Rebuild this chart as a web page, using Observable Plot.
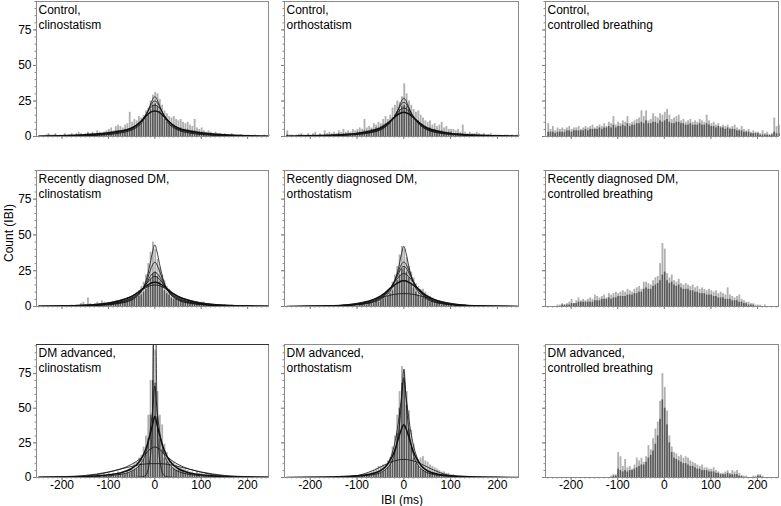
<!DOCTYPE html>
<html><head><meta charset="utf-8">
<script src="https://cdn.jsdelivr.net/npm/d3@7"></script>
<script src="https://cdn.jsdelivr.net/npm/@observablehq/plot@0.6"></script>
<style>
body{margin:0;background:#fff;}
#chart{position:relative;width:781px;height:506px;overflow:hidden;font-family:"Liberation Sans",Arial,sans-serif;background:#fff;}
.lbl{position:absolute;font-size:12px;line-height:12px;color:#000;white-space:nowrap;transform:translate(-50%,-50%);}
</style></head><body><div id="chart"></div>
<script>
// ---------- data ----------
const binStart = -250, binWidth = 5;           // histogram bins (ms)
const xTicks = [-200, -100, 0, 100, 200];
const yTicks = [0, 25, 50, 75];
const titles = [
  "Control,\nclinostatism", "Control,\northostatism", "Control,\ncontrolled breathing",
  "Recently diagnosed DM,\nclinostatism", "Recently diagnosed DM,\northostatism", "Recently diagnosed DM,\ncontrolled breathing",
  "DM advanced,\nclinostatism", "DM advanced,\northostatism", "DM advanced,\ncontrolled breathing"
];
const curveX = [-250,-200,-150,-100,-75,-50,-40,-30,-20,-10,-5,0,5,10,20,30,40,50,75,100,150,200,250];

const ctrlClinoLight = [0,0,0,1,2,1,1,2,0,1, 1,2,1,1,2,1,2,3,2,1, 2,3,2,3,2,4,3,2,3,4, 5,6,4,7,8,7,6,8,9,17, 10,12,11,14,13,15,18,20,25,29, 31,30,26,22,18,16,14,13,14,12, 11,12,10,9,10,8,7,12,6,5, 6,4,3,4,3,2,3,2,2,1, 2,1,1,2,1,0,1,1,0,0, 1,0,0,1,0,0,0,1,0,1];
const ctrlClinoDark = [0,0,0,0,1,0,0,1,0,0, 0,1,0,1,1,0,1,1,1,1, 1,2,1,2,1,2,2,1,2,2, 3,3,2,4,4,4,3,4,5,5, 6,7,7,9,9,11,13,15,19,22, 23,21,18,15,12,10,9,8,8,7, 6,6,5,5,5,4,4,4,3,3, 3,2,2,2,2,1,1,1,1,1, 1,1,0,1,0,0,0,1,0,0, 0,0,0,0,0,0,0,0,0,0];
const ctrlOrthoLight = [4,1,1,0,1,1,2,1,1,2, 1,2,3,1,2,1,4,2,3,2, 3,2,4,3,5,3,4,3,5,4, 5,6,5,12,6,7,6,9,8,10, 9,12,14,12,15,20,22,25,24,28, 37,30,25,22,19,17,18,15,13,11, 10,11,8,9,7,8,10,6,7,5, 5,5,4,5,3,8,3,2,3,2, 2,3,2,1,2,1,1,2,1,1, 1,1,0,1,1,0,1,0,1,1];
const ctrlOrthoDark = [1,0,0,0,0,1,1,0,0,1, 0,1,1,0,1,0,1,1,1,1, 1,1,2,1,2,2,2,2,2,2, 3,3,3,4,4,4,5,5,6,6, 7,8,9,10,11,13,15,17,19,21, 22,21,19,16,14,12,11,9,8,7, 6,6,5,5,4,4,4,3,3,3, 3,2,2,2,2,2,1,1,1,1, 1,1,1,1,1,0,1,0,0,0, 0,0,0,0,0,0,0,0,0,0];
const ctrlBreathLight = [9,5,7,4,6,5,6,5,6,7, 5,6,6,7,5,6,7,6,7,8, 6,7,8,7,9,7,10,9,14,8, 10,9,11,10,14,9,10,11,12,13, 18,14,18,11,12,16,14,13,16,15, 17,19,15,12,13,14,15,11,12,10, 11,12,10,11,10,12,11,10,15,11, 9,10,8,9,7,8,7,8,6,7, 8,6,5,7,5,4,5,3,4,3, 3,2,4,2,3,1,2,13,7,8];
const ctrlBreathDark = [3,3,3,2,3,3,3,3,4,4, 3,4,4,4,4,4,5,4,5,5, 5,5,6,5,6,6,7,6,8,6, 7,7,8,7,9,7,8,8,9,9, 10,9,11,9,9,10,10,9,11,10, 11,12,10,9,9,10,10,9,9,8, 8,9,8,8,8,9,8,8,9,8, 7,7,6,7,6,6,5,6,5,5, 5,4,4,4,3,3,3,2,2,2, 2,1,1,1,1,1,1,3,2,2];

const recentClinoLight = [0,0,0,0,0,0,0,0,0,0, 0,0,0,0,1,0,1,1,2,3, 1,6,2,1,2,3,2,4,3,2, 3,2,3,4,3,4,5,4,6,6, 7,8,10,11,14,17,22,30,38,45, 40,33,27,22,18,14,12,10,9,8, 6,6,5,5,4,4,3,3,3,2, 3,3,2,2,1,1,1,1,1,0, 1,0,0,1,0,0,0,0,0,0, 0,0,0,0,0,0,0,0,0,0];
const recentClinoDark = [0,0,0,0,0,0,0,0,0,0, 0,0,0,0,0,0,0,0,1,1, 1,1,1,1,1,1,1,2,2,2, 2,2,2,3,3,3,3,3,4,4, 5,5,6,7,8,10,12,15,19,23, 24,21,17,14,11,9,8,6,5,5, 4,4,3,3,3,2,2,2,2,2, 1,1,1,1,1,1,0,1,0,0, 0,0,0,0,0,0,0,0,0,0, 0,0,0,0,0,0,0,0,0,0];
const recentOrthoLight = [0,0,0,0,0,0,0,0,0,0, 0,0,0,0,0,0,0,0,0,0, 0,0,0,0,1,0,1,1,1,2, 1,2,2,3,2,3,3,4,5,5, 6,7,9,11,13,17,22,28,36,42, 40,34,28,24,20,16,14,12,12,10, 8,7,6,5,4,4,3,3,2,2, 2,1,1,1,1,0,1,0,0,0, 0,0,0,0,0,0,0,0,0,0, 0,0,0,0,0,0,0,0,0,0];
const recentOrthoDark = [0,0,0,0,0,0,0,0,0,0, 0,0,0,0,0,0,0,0,0,0, 0,0,0,0,0,0,0,0,0,0, 0,1,1,1,1,2,2,2,3,3, 4,5,6,7,9,11,14,18,22,26, 27,24,20,16,13,10,8,7,6,5, 4,3,3,2,2,2,1,1,1,1, 1,0,0,0,0,0,0,0,0,0, 0,0,0,0,0,0,0,0,0,0, 0,0,0,0,0,0,0,0,0,0];
const recentBreathLight = [0,0,0,0,1,1,2,1,2,3, 5,2,4,6,4,5,4,5,6,5, 8,7,6,7,8,6,9,8,9,10, 9,10,11,10,12,11,10,12,13,14, 12,17,17,16,15,18,20,21,30,44, 40,23,20,22,18,17,19,16,15,16, 15,14,15,13,14,12,13,12,11,12, 11,10,11,9,10,9,8,13,8,7, 6,7,8,5,4,3,3,2,2,1, 1,1,0,1,0,0,0,0,0,0];
const recentBreathDark = [0,0,0,0,0,0,1,1,1,1, 2,2,2,3,3,3,3,3,3,3, 4,4,4,5,5,5,6,5,6,6, 7,7,7,7,8,8,8,9,9,10, 10,12,13,12,12,14,15,16,18,22, 24,18,16,17,15,14,15,13,12,12, 12,11,11,10,10,9,9,9,8,8, 8,7,7,6,6,6,5,5,5,4, 4,4,3,3,2,2,1,1,1,0, 0,0,0,0,0,0,0,0,0,0];

const advClinoLight = [0,0,0,0,0,0,0,0,0,0, 0,0,0,0,0,0,0,0,0,0, 0,0,0,1,0,1,1,0,2,1, 3,2,3,2,4,3,4,3,5,6, 8,10,11,14,16,22,30,45,70,95, 92,62,45,38,24,18,14,12,11,9, 8,7,6,6,5,4,4,3,4,3, 3,2,3,2,2,1,2,1,1,0, 1,0,0,0,0,0,0,0,0,0, 0,0,0,0,0,0,0,0,0,0];
const advClinoDark = [0,0,0,0,0,0,0,0,0,0, 0,0,0,0,0,0,0,0,0,0, 0,0,0,0,0,0,1,0,1,1, 1,1,1,1,2,2,2,2,3,3, 4,5,6,8,10,13,18,28,45,70, 68,44,28,20,14,11,9,7,6,5, 5,4,4,3,3,3,2,2,2,2, 1,1,1,1,1,0,1,0,0,0, 0,0,0,0,0,0,0,0,0,0, 0,0,0,0,0,0,0,0,0,0];
const advOrthoLight = [0,0,0,0,0,0,0,0,0,0, 0,0,0,0,0,0,0,0,0,0, 0,0,0,0,0,0,0,0,0,1, 1,1,2,2,3,3,4,5,6,8, 8,9,9,12,14,22,30,45,62,80, 78,62,48,34,24,15,13,14,15,12, 11,9,8,7,6,5,4,4,3,3, 2,2,1,1,1,0,0,0,0,0, 0,0,0,0,0,0,0,0,0,0, 0,0,0,0,0,0,0,0,0,0];
const advOrthoDark = [0,0,0,0,0,0,0,0,0,0, 0,0,0,0,0,0,0,0,0,0, 0,0,0,0,0,0,0,0,0,0, 0,0,1,1,1,1,2,2,2,3, 3,4,5,7,9,13,20,32,50,68, 70,52,35,22,14,10,8,6,5,4, 4,3,3,2,2,2,1,1,1,1, 1,0,0,0,0,0,0,0,0,0, 0,0,0,0,0,0,0,0,0,0, 0,0,0,0,0,0,0,0,0,0];
const advBreathLight = [0,0,0,0,0,0,0,0,0,0, 0,0,0,0,0,0,0,0,0,0, 0,0,0,0,0,0,0,1,2,2, 18,15,8,13,7,8,6,9,14,12, 14,11,15,23,20,28,35,40,55,75, 65,48,30,22,18,17,15,16,14,15, 14,12,11,10,9,8,9,7,7,6, 6,7,5,4,3,3,4,5,3,5, 4,5,3,1,1,1,0,0,1,1, 2,2,1,0,0,0,0,0,0,0];
const advBreathDark = [0,0,0,0,0,0,0,0,0,0, 0,0,0,0,0,0,0,0,0,0, 0,0,0,0,0,0,0,0,1,1, 6,5,4,5,4,5,5,6,7,8, 9,9,11,14,16,19,24,30,42,56, 50,38,25,18,14,13,12,11,10,10, 9,8,8,7,6,6,5,5,5,4, 4,4,3,3,2,2,2,3,2,2, 2,2,1,1,0,0,0,0,0,0, 1,1,0,0,0,0,0,0,0,0];

// fitted curves, values at curveX
const ctrlClinoCurves = [
  [0.2,0.5,1.2,2.6,3.8,6,7.8,10.5,14,17,17.7,18,17.7,17,14,10.5,7.8,6,3.8,2.6,1.2,0.5,0.2],
  [0.1,0.2,0.5,1.4,2.4,4.5,6.2,9,14,22,26,28,26,22,14,9,6.2,4.5,2.4,1.4,0.5,0.2,0.1],
  [0.1,0.3,0.7,1.8,3,5.2,7,10,15,21,24,25,24,21,15,10,7,5.2,3,1.8,0.7,0.3,0.1],
  [0.1,0.4,0.9,2.2,3.5,6,8,11,15,20,21.5,22,21.5,20,15,11,8,6,3.5,2.2,0.9,0.4,0.1]
];
const ctrlOrthoCurves = [
  [0.2,0.5,1,2.2,3.5,6,8,10.5,13.5,16,16.7,17,16.7,16,13.5,10.5,8,6,3.5,2.2,1,0.5,0.2],
  [0.1,0.2,0.6,1.4,2.4,4.6,6.5,9.5,14,21,25,27,25,21,14,9.5,6.5,4.6,2.4,1.4,0.6,0.2,0.1],
  [0.1,0.3,0.7,1.7,2.8,5,7,10,14,20,23,24,23,20,14,10,7,5,2.8,1.7,0.7,0.3,0.1],
  [0.1,0.3,0.8,2,3.2,5.5,7.5,10.5,14,18,19.5,20,19.5,18,14,10.5,7.5,5.5,3.2,2,0.8,0.3,0.1]
];
const recentClinoCurves = [
  [0,0.1,0.4,1.2,2.2,4.5,6.5,10,17,30,38,43,38,30,17,10,6.5,4.5,2.2,1.2,0.4,0.1,0],
  [0.1,0.2,0.5,1.5,2.6,5,7,10.5,16,25,29,31,29,25,16,10.5,7,5,2.6,1.5,0.5,0.2,0.1],
  [0.1,0.2,0.6,1.7,3,5.5,7.5,10.5,15,21,23,24,23,21,15,10.5,7.5,5.5,3,1.7,0.6,0.2,0.1],
  [0.1,0.3,0.7,1.9,3.3,6,8,11,15,19,20.5,21,20.5,19,15,11,8,6,3.3,1.9,0.7,0.3,0.1],
  [0.1,0.3,0.8,2.3,4,7,9,11.5,14,16,16.8,17,16.8,16,14,11.5,9,7,4,2.3,0.8,0.3,0.1],
  [0.1,0.4,1,2.6,4.4,7.2,9,11,13,14.5,14.9,15,14.9,14.5,13,11,9,7.2,4.4,2.6,1,0.4,0.1]
];
const recentOrthoCurves = [
  [0,0.1,0.3,1.1,2.2,4.8,7,10.5,17,29,37,42,37,29,17,10.5,7,4.8,2.2,1.1,0.3,0.1,0],
  [0,0.1,0.4,1.3,2.5,5.5,8,12,18,26,29.5,31,29.5,26,18,12,8,5.5,2.5,1.3,0.4,0.1,0],
  [0,0.2,0.5,1.5,2.8,6,8.5,12,17.5,24,27,28,27,24,17.5,12,8.5,6,2.8,1.5,0.5,0.2,0],
  [0,0.2,0.5,1.7,3.2,6.5,9,12.5,17,21,22.5,23,22.5,21,17,12.5,9,6.5,3.2,1.7,0.5,0.2,0],
  [0,0.2,0.5,1.8,3.6,7.2,9.5,12.5,15,17,17.8,18,17.8,17,15,12.5,9.5,7.2,3.6,1.8,0.5,0.2,0],
  [0,0.1,0.5,2.3,4,6.2,7,7.8,8.5,8.9,9,9,9,8.9,8.5,7.8,7,6.2,4,2.3,0.5,0.1,0]
];
const advClinoCurves = [
  [0,0,0,0,0,0,0.1,0.3,1.5,14,45,150,45,14,1.5,0.3,0.1,0,0,0,0,0,0],
  [0.1,0.2,0.5,1.2,2.2,4.5,6.5,10,17,34,48,66,48,34,17,10,6.5,4.5,2.2,1.2,0.5,0.2,0.1],
  [0.1,0.3,0.8,2,3.3,6.5,9,13,20,31,38,44,38,31,20,13,9,6.5,3.3,2,0.8,0.3,0.1],
  [0.2,0.6,1.5,4,6,9.5,11.5,14,17,20.5,21.5,22,21.5,20.5,17,14,11.5,9.5,6,4,1.5,0.6,0.2],
  [0,0.2,1,3.8,6,8,8.8,9.4,9.8,10,10,10,10,10,9.8,9.4,8.8,8,6,3.8,1,0.2,0]
];
const advOrthoCurves = [
  [0,0.1,0.3,0.9,1.6,3.5,5.5,9,17,36,55,78,55,36,17,9,5.5,3.5,1.6,0.9,0.3,0.1,0],
  [0,0.1,0.4,1,2,4.8,7.5,13,24,44,58,72,58,44,24,13,7.5,4.8,2,1,0.4,0.1,0],
  [0,0.1,0.4,1.2,2.2,5,7.5,12,19,30,35,38,35,30,19,12,7.5,5,2.2,1.2,0.4,0.1,0],
  [0,0,0.1,1.4,3.8,7.6,9.3,10.8,12,12.8,13,13,13,12.8,12,10.8,9.3,7.6,3.8,1.4,0.1,0,0]
];

// ---------- layout / drawing ----------
const panels = [
  {light: ctrlClinoLight, dark: ctrlClinoDark, curves: ctrlClinoCurves, thick: 0},
  {light: ctrlOrthoLight, dark: ctrlOrthoDark, curves: ctrlOrthoCurves, thick: 0},
  {light: ctrlBreathLight, dark: ctrlBreathDark, curves: [], thick: -1},
  {light: recentClinoLight, dark: recentClinoDark, curves: recentClinoCurves, thick: 4},
  {light: recentOrthoLight, dark: recentOrthoDark, curves: recentOrthoCurves, thick: 4},
  {light: recentBreathLight, dark: recentBreathDark, curves: [], thick: -1},
  {light: advClinoLight, dark: advClinoDark, curves: advClinoCurves, thick: 2},
  {light: advOrthoLight, dark: advOrthoDark, curves: advOrthoCurves, thick: 2},
  {light: advBreathLight, dark: advBreathDark, curves: [], thick: -1}
];
const colLeft = [36, 284, 545], colRight = [268, 518, 778];
const rowTop = [1, 170, 344], rowBottom = [136, 306, 477], yMax = [95, 95, 96];
const chart = document.getElementById("chart");
const bins = arr => arr.map((v, k) => ({x1: binStart + k * binWidth, x2: binStart + (k + 1) * binWidth, y: v})).filter(d => d.y > 0);

panels.forEach((p, i) => {
  const r = Math.floor(i / 3), c = i % 3;
  const mL = c === 0 ? 36 : 8, mR = 3, mT = r === 0 ? 1 : 3, mB = r === 2 ? 18 : 6;
  const W = colRight[c] - colLeft[c] + mL + mR;
  const H = rowBottom[r] - rowTop[r] + mT + mB;
  const marks = [
    Plot.rectY(bins(p.light), {x1: "x1", x2: "x2", y1: 0, y2: "y", fill: "#b0b0b0", insetRight: 0.5}),
    Plot.rectY(bins(p.dark), {x1: "x1", x2: "x2", y1: 0, y2: "y", fill: "#4a4a4a", fillOpacity: 0.85, insetRight: 0.7})
  ];
  p.curves.forEach((cv, k) => {
    marks.push(Plot.line(curveX.map((x, j) => ({x, y: cv[j]})), {
      x: "x", y: "y", stroke: "#111", strokeWidth: k === p.thick ? 1.5 : 0.8,
      curve: "monotone-x", clip: true
    }));
  });
  marks.push(Plot.frame({stroke: "#8a8a8a"}));
  if (i === 6) marks.push(Plot.frame({anchor: "top", stroke: "#333"}));
  marks.push(Plot.axisY({ticks: yTicks, tickSize: 3, tickPadding: 2, stroke: "#777", label: null, fontSize: 12,
    tickFormat: c === 0 ? d => String(d) : () => ""}));
  marks.push(Plot.axisY({ticks: d3.range(0, yMax[r] + 1, 5), tickSize: 1.5, stroke: "#888", label: null, tickFormat: () => ""}));
  marks.push(Plot.axisX({ticks: xTicks, tickSize: 3, tickPadding: 0, stroke: "#777", label: null, fontSize: 12,
    tickFormat: r === 2 ? d => String(d) : () => ""}));
  marks.push(Plot.axisX({ticks: d3.range(-250, 250, 10), tickSize: 1.5, stroke: "#888", label: null, tickFormat: () => ""}));
  marks.push(Plot.text([titles[i]], {frameAnchor: "top-left", dx: 2, dy: 3, fontSize: 12, fill: "#000", lineHeight: 1.17}));
  const svg = Plot.plot({
    width: W, height: H, marginLeft: mL, marginRight: mR, marginTop: mT, marginBottom: mB,
    x: {domain: [-255, 245], axis: null},
    y: {domain: [0, yMax[r]], axis: null},
    style: {fontFamily: '"Liberation Sans", Arial, sans-serif', fontSize: "12px", background: "transparent", color: "#000", overflow: "visible"},
    marks
  });
  svg.style.position = "absolute";
  svg.style.left = (colLeft[c] - mL) + "px";
  svg.style.top = (rowTop[r] - mT) + "px";
  chart.appendChild(svg);
});

const yl = document.createElement("div");
yl.className = "lbl"; yl.textContent = "Count (IBI)";
yl.style.left = "9px"; yl.style.top = "233px";
yl.style.transform = "translate(-50%,-50%) rotate(-90deg)";
chart.appendChild(yl);
const xl = document.createElement("div");
xl.className = "lbl"; xl.textContent = "IBI (ms)";
xl.style.left = "402px"; xl.style.top = "500px";
chart.appendChild(xl);
</script></body></html>
